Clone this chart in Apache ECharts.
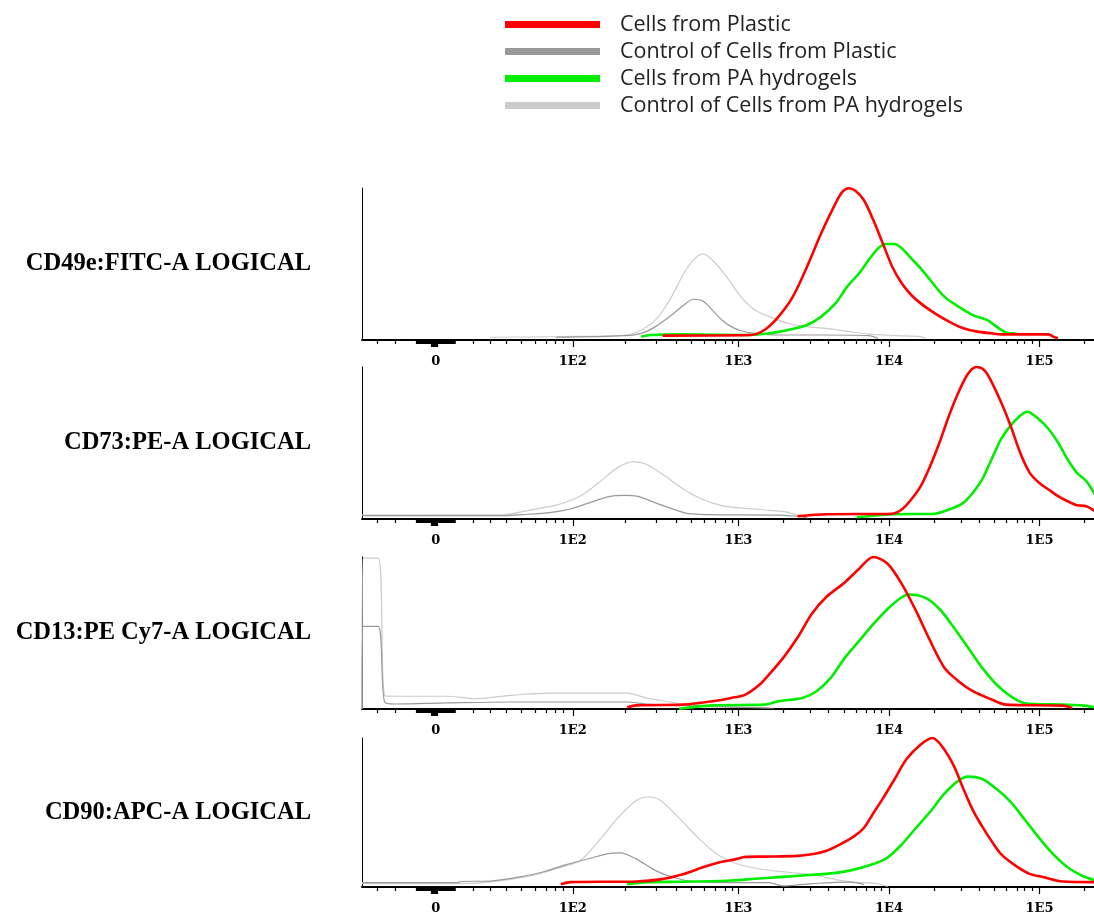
<!DOCTYPE html>
<html>
<head>
<meta charset="utf-8">
<script src="https://cdn.jsdelivr.net/npm/echarts@6/dist/echarts.min.js"></script>
<style>
html,body{margin:0;padding:0;background:#fff;}
#chart{width:1094px;height:915px;}
</style>
</head>
<body>
<div id="chart"></div>
<script>
// ---- Data (x in display units of the logicle axis, y as % of panel max) ----
const seriesNames = ['Cells from Plastic', 'Control of Cells from Plastic', 'Cells from PA hydrogels', 'Control of Cells from PA hydrogels'];
const seriesColors = ['#ff0000', '#999999', '#00ee00', '#cccccc'];
const panelNames = ['CD49e:FITC-A LOGICAL', 'CD73:PE-A LOGICAL', 'CD13:PE Cy7-A LOGICAL', 'CD90:APC-A LOGICAL'];

const xTickPos = [0.99, 1.9, 3, 4, 5];
const xTickLabels = ['0', '1E2', '1E3', '1E4', '1E5'];
const minorTickPos = [0.603, 0.722, 0.862, 1.116, 1.238, 1.355, 1.46, 1.559, 1.648, 1.726, 1.781, 1.836,
  2.246, 2.456, 2.585, 2.689, 2.773, 2.844, 2.91, 2.957,
  3.30, 3.48, 3.60, 3.70, 3.78, 3.85, 3.90, 3.95,
  4.30, 4.48, 4.60, 4.70, 4.78, 4.85, 4.90, 4.95, 5.30];

// Panel 1: CD49e
const p1Plastic = [[2.497,2.9],[3.079,3.3],[3.173,6.6],[3.267,15.4],[3.362,28.5],[3.456,48.2],[3.550,70.2],[3.645,89.9],[3.692,97.6],[3.733,99.8],[3.777,98.2],[3.833,92.1],[3.896,78.9],[3.959,63.6],[4.022,48.2],[4.085,37.3],[4.148,29.6],[4.211,24.1],[4.305,17.5],[4.399,12.1],[4.494,7.7],[4.588,5.5],[4.682,4.4],[4.745,3.7],[4.840,3.7],[5.060,3.7],[5.091,2.2],[5.123,1.1]];
const p1PlasticCtrl = [[1.789,1.8],[2.245,2.9],[2.355,4.4],[2.450,8.8],[2.544,15.4],[2.638,23.0],[2.701,26.8],[2.764,25.7],[2.827,19.7],[2.890,13.2],[2.953,8.8],[3.016,6.1],[3.110,4.4],[3.267,3.3],[3.582,3.3],[3.865,2.9],[3.928,1.1]];
const p1Hydrogel = [[2.355,2.2],[2.418,3.3],[2.638,3.7],[3.079,3.3],[3.204,4.4],[3.330,6.6],[3.456,9.9],[3.550,15.4],[3.645,24.1],[3.723,35.1],[3.802,43.9],[3.865,52.6],[3.928,60.3],[3.975,63.2],[4.038,63.2],[4.085,60.3],[4.148,53.7],[4.211,47.1],[4.274,39.5],[4.368,28.5],[4.462,21.9],[4.557,16.4],[4.651,13.2],[4.714,8.8],[4.777,5.0],[4.840,4.4]];
const p1HydrogelCtrl = [[1.349,1.8],[1.789,2.2],[2.261,3.3],[2.355,6.6],[2.450,13.2],[2.544,26.3],[2.638,43.9],[2.701,52.6],[2.764,56.6],[2.827,52.6],[2.921,41.7],[3.016,28.5],[3.110,19.7],[3.204,15.4],[3.330,11.0],[3.456,8.8],[3.582,7.7],[3.739,5.5],[3.865,3.9],[4.053,2.9],[4.211,2.2],[4.242,1.1]];

// Panel 2: CD73
const p2Plastic = [[3.393,1.8],[3.582,3.1],[4.022,3.5],[4.085,6.2],[4.148,12.8],[4.211,21.6],[4.274,34.9],[4.336,50.3],[4.399,68.0],[4.462,83.4],[4.525,95.6],[4.582,100],[4.635,97.8],[4.682,90.1],[4.745,76.8],[4.808,61.4],[4.871,43.7],[4.934,30.5],[4.997,23.8],[5.060,19.4],[5.123,15.0],[5.186,11.7],[5.248,9.1],[5.311,8.4],[5.368,5.1]];
const p2PlasticCtrl = [[0.5,2.2],[1.443,2.2],[1.569,2.9],[1.758,4.4],[1.884,6.6],[2.009,10.6],[2.135,14.6],[2.245,15.5],[2.324,15.0],[2.450,10.6],[2.575,6.2],[2.670,3.5],[2.796,2.9],[3.267,2.6],[3.393,1.8],[3.456,0.7]];
const p2Hydrogel = [[3.786,1.1],[4.022,3.1],[4.305,3.5],[4.399,6.2],[4.494,10.6],[4.557,17.2],[4.619,26.0],[4.682,39.3],[4.745,52.5],[4.808,61.4],[4.871,68.0],[4.918,70.6],[4.981,66.9],[5.060,59.2],[5.123,50.3],[5.186,39.3],[5.248,30.5],[5.311,24.9],[5.368,16.1]];
const p2HydrogelCtrl = [[0.5,2.6],[1.443,2.9],[1.632,6.2],[1.789,9.1],[1.947,15.0],[2.072,23.8],[2.198,33.8],[2.308,37.7],[2.387,36.0],[2.513,28.3],[2.638,19.4],[2.764,12.8],[2.890,8.8],[3.016,7.3],[3.204,5.7],[3.330,4.4],[3.393,2.6],[3.582,2.2]];

// Panel 3: CD13
const p3Plastic = [[2.261,1.1],[2.324,2.4],[2.638,2.9],[2.827,5.1],[2.953,7.3],[3.047,9.5],[3.142,16.1],[3.204,22.7],[3.299,33.8],[3.393,47.0],[3.487,62.5],[3.582,73.5],[3.708,83.4],[3.802,92.3],[3.896,100],[3.991,95.6],[4.085,82.3],[4.179,64.7],[4.274,44.8],[4.368,27.2],[4.462,18.3],[4.557,11.7],[4.682,6.2],[4.777,2.9],[5.154,2.2],[5.217,0.7]];
const p3PlasticCtrl = [[0.5,0],[0.507,54.3],[0.607,54.3],[0.651,4.4],[0.720,3.3],[1.066,4.0],[1.506,4.6],[2.261,4.6],[2.387,3.3],[2.638,2.4],[2.827,1.5],[3.204,0.7]];
const p3Hydrogel = [[2.607,0.2],[2.827,2.4],[3.173,2.9],[3.267,5.1],[3.425,7.3],[3.519,11.7],[3.613,20.5],[3.708,33.8],[3.802,44.8],[3.896,55.8],[3.991,65.8],[4.085,73.5],[4.132,75.3],[4.242,73.1],[4.336,65.8],[4.431,53.6],[4.525,40.4],[4.619,27.2],[4.714,16.1],[4.808,8.4],[4.903,3.8],[5.154,2.9],[5.280,2.4],[5.368,1.1]];
const p3HydrogelCtrl = [[0.5,0],[0.507,99.3],[0.607,99.3],[0.651,8.8],[0.720,8.4],[1.066,8.4],[1.255,6.8],[1.506,9.1],[1.758,10.4],[2.261,10.4],[2.387,7.3],[2.513,5.1],[2.638,3.3],[2.890,1.8],[3.236,0.7]];

// Panel 4: CD90
const p4Plastic = [[1.821,1.8],[1.884,3.3],[2.324,3.7],[2.481,5.1],[2.638,8.8],[2.764,13.2],[2.890,16.9],[2.984,18.7],[3.047,20.2],[3.173,20.4],[3.393,20.9],[3.487,22.0],[3.582,24.2],[3.676,28.6],[3.770,34.1],[3.833,39.6],[3.896,49.5],[3.959,59.3],[4.038,72.5],[4.116,85.7],[4.211,95.6],[4.289,100],[4.352,94.5],[4.431,81.3],[4.494,65.9],[4.557,51.6],[4.619,40.7],[4.682,30.8],[4.745,22.0],[4.840,14.3],[4.934,8.8],[5.028,6.6],[5.154,3.7],[5.368,3.3]];
const p4PlasticCtrl = [[0.5,2.9],[1.129,2.9],[1.160,3.7],[1.349,4.0],[1.538,6.6],[1.695,9.9],[1.852,14.9],[2.009,19.1],[2.135,22.4],[2.214,22.9],[2.324,18.7],[2.450,11.0],[2.575,6.2],[2.701,3.7],[2.953,2.9],[3.204,2.9],[3.299,0.7],[3.487,2.2],[3.739,3.3],[3.833,1.8]];
const p4Hydrogel = [[2.261,1.8],[2.387,3.3],[2.638,3.5],[2.953,4.4],[3.110,5.5],[3.267,6.6],[3.425,7.7],[3.582,8.8],[3.739,11.0],[3.896,15.4],[3.991,19.8],[4.085,28.6],[4.179,39.6],[4.274,50.5],[4.368,62.6],[4.462,71.4],[4.525,74.1],[4.619,72.5],[4.714,65.9],[4.808,57.1],[4.903,45.1],[4.997,33.0],[5.091,22.0],[5.186,13.2],[5.280,7.7],[5.368,4.4]];
const p4HydrogelCtrl = [[0.5,2.2],[1.129,2.2],[1.349,3.3],[1.632,7.7],[1.821,13.2],[1.947,17.6],[2.072,30.8],[2.198,46.2],[2.324,58.2],[2.403,60.4],[2.481,58.2],[2.607,46.2],[2.733,33.0],[2.858,22.0],[2.984,15.8],[3.142,12.1],[3.330,9.9],[3.519,7.7],[3.676,4.4],[3.770,3.3],[3.928,2.2],[3.991,0.4]];

const panelData = [
  [p1Plastic, p1PlasticCtrl, p1Hydrogel, p1HydrogelCtrl],
  [p2Plastic, p2PlasticCtrl, p2Hydrogel, p2HydrogelCtrl],
  [p3Plastic, p3PlasticCtrl, p3Hydrogel, p3HydrogelCtrl],
  [p4Plastic, p4PlasticCtrl, p4Hydrogel, p4HydrogelCtrl]
];

// ---- Layout ----
const X_MIN = 0.5, X_MAX = 5.362;
const gridTops = [188, 367, 557, 738];
const gridH = 152;
const denseTicks = [];
for (let v = 0.862; v <= 1.118; v += 0.005) denseTicks.push(+v.toFixed(3));
const deepTicks = [0.96, 0.965, 0.97, 0.975, 0.98, 0.985, 0.99, 0.995, 1.0];

const grids = [], xAxes = [], yAxes = [], series = [];
gridTops.forEach((top, i) => {
  grids.push({left: 362, width: 732, top: top, height: gridH});
  // major axis (line + labels + long ticks)
  xAxes.push({
    type: 'value', gridIndex: i, min: X_MIN, max: X_MAX, position: 'bottom',
    axisLine: {show: true, onZero: false, lineStyle: {color: '#000', width: 2}},
    axisTick: {show: true, customValues: deepTicks.concat(xTickPos.slice(1)), length: 7, lineStyle: {color: '#000', width: 1.2}},
    axisLabel: {show: true, customValues: xTickPos, margin: 15, color: '#000',
      fontFamily: 'DejaVu Serif', fontSize: 13, fontWeight: 'bold',
      formatter: v => { let k = 0, d = 1e9; xTickPos.forEach((p, j) => { if (Math.abs(p - v) < d) { d = Math.abs(p - v); k = j; } }); return xTickLabels[k]; }},
    splitLine: {show: false}
  });
  // minor ticks
  xAxes.push({
    type: 'value', gridIndex: i, min: X_MIN, max: X_MAX, position: 'bottom',
    axisLine: {show: false, onZero: false},
    axisTick: {show: true, customValues: minorTickPos, length: 4, lineStyle: {color: '#000', width: 1.2}},
    axisLabel: {show: false}, splitLine: {show: false}
  });
  // dense near-zero ticks
  xAxes.push({
    type: 'value', gridIndex: i, min: X_MIN, max: X_MAX, position: 'bottom',
    axisLine: {show: false, onZero: false},
    axisTick: {show: true, customValues: denseTicks, length: 4, lineStyle: {color: '#000', width: 1.5}},
    axisLabel: {show: false}, splitLine: {show: false}
  });
  yAxes.push({
    type: 'value', gridIndex: i, min: 0, max: 100,
    axisLine: {show: true, lineStyle: {color: '#000', width: 1}},
    axisTick: {show: false}, axisLabel: {show: false}, splitLine: {show: false},
    name: panelNames[i], nameLocation: 'middle', nameRotate: 0, nameGap: 51,
    nameTextStyle: {fontFamily: 'Liberation Serif', fontWeight: 'bold', fontSize: 24.5, color: '#000'}
  });
  const order = [3, 1, 2, 0];
  seriesNames.forEach((name, s) => {
    series.push({
      name: name, type: 'line', xAxisIndex: i * 3, yAxisIndex: i,
      data: panelData[i][s], showSymbol: false, symbol: 'none',
      smooth: 0.3,
      z: 2 + order.indexOf(s),
      color: seriesColors[s],
      itemStyle: {color: seriesColors[s]},
      lineStyle: {color: seriesColors[s], width: (s === 0 || s === 2) ? 2.6 : 1.2},
      clip: true, silent: true
    });
  });
});

const chart = echarts.init(document.getElementById('chart'), null, {renderer: 'canvas'});
chart.setOption({
  animation: false,
  backgroundColor: '#fff',
  legend: {
    orient: 'vertical', left: 505, top: 11, padding: 0, itemGap: 0,
    icon: 'rect', itemWidth: 95, itemHeight: 7,
    data: seriesNames.map((n, s) => ({name: n, itemStyle: {color: seriesColors[s]}})),
    textStyle: {fontFamily: 'Open Sans', fontSize: 21.5, color: '#222', lineHeight: 27, padding: [0, 0, 0, 15]}
  },
  grid: grids, xAxis: xAxes, yAxis: yAxes, series: series
});
</script>
</body>
</html>
